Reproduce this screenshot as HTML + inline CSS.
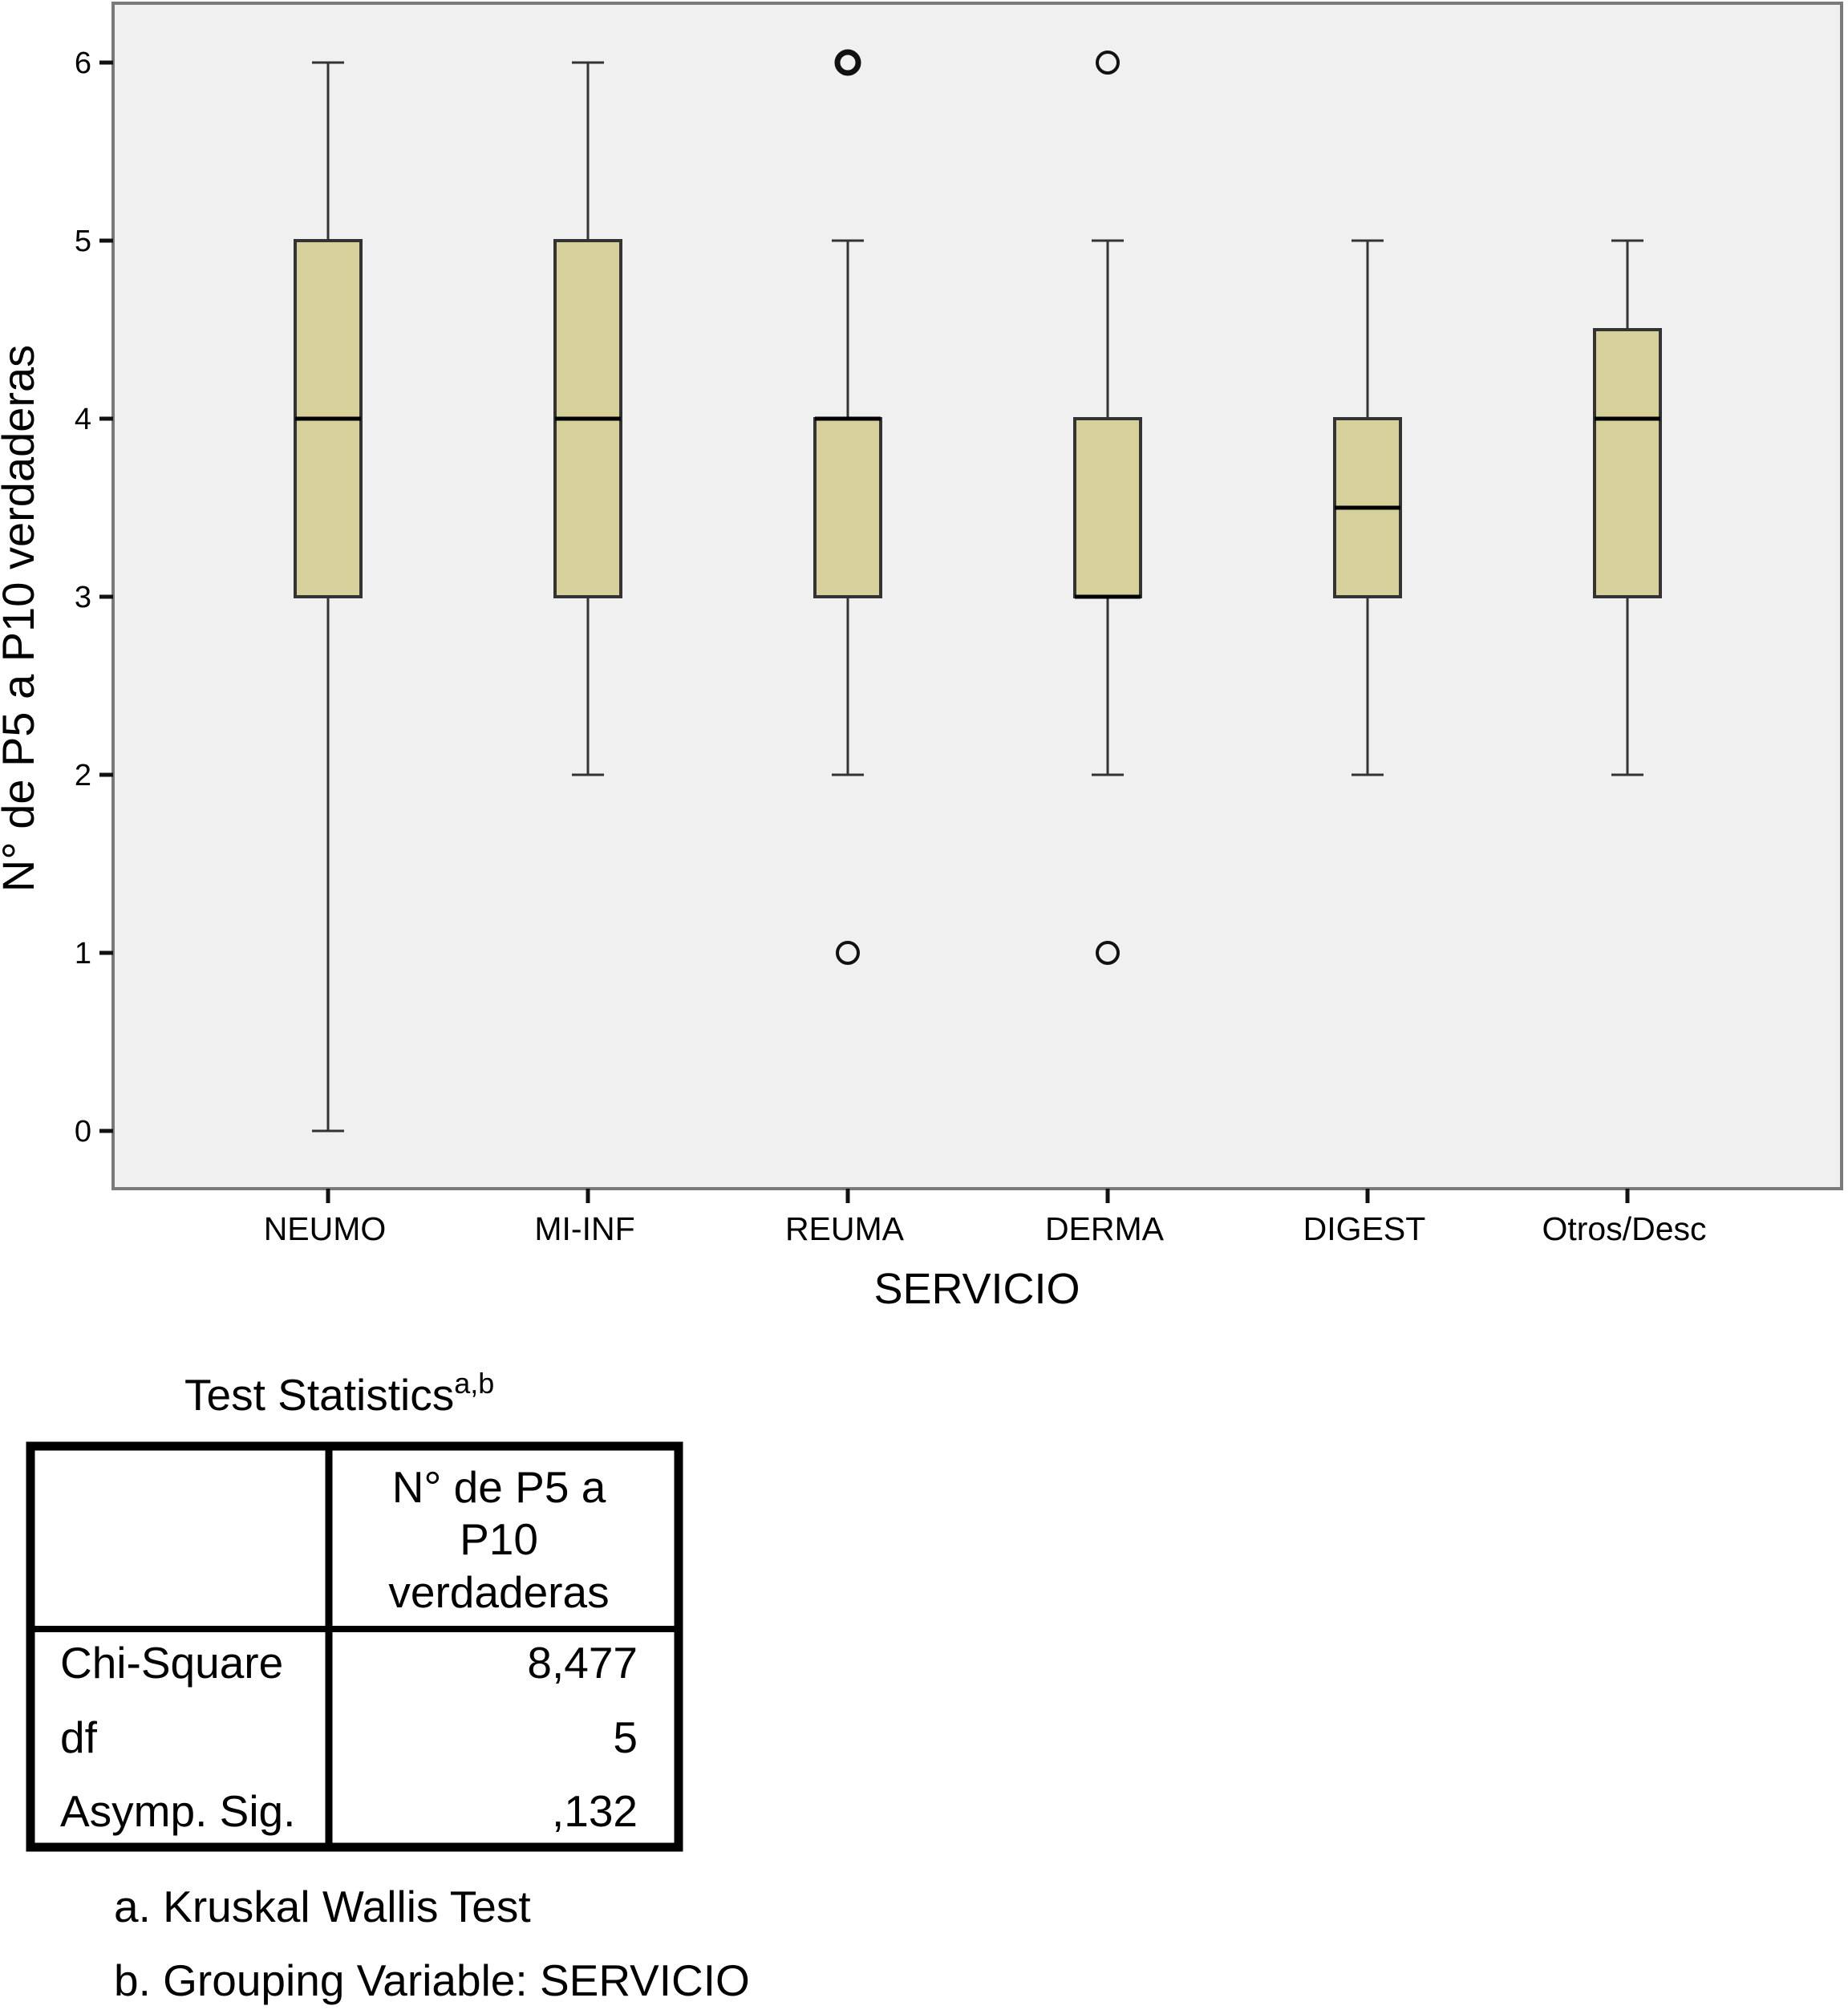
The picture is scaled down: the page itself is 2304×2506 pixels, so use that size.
<!DOCTYPE html>
<html><head><meta charset="utf-8">
<style>
html,body{margin:0;padding:0;background:#fff;}
body{width:2304px;height:2506px;position:relative;overflow:hidden;font-family:"Liberation Sans",sans-serif;}
svg{position:absolute;left:0;top:0;}
</style></head>
<body>
<svg id="chart" width="2304" height="2506">
  <rect x="141" y="4" width="2155" height="1478" fill="#f0f0f0" stroke="#7a7a7a" stroke-width="4"/>
  <g id="yaxis"></g>
  <g id="xaxis"></g>
  <g id="boxes"></g>
  <text transform="translate(42,771) rotate(-90)" text-anchor="middle" font-size="56" fill="#000">N° de P5 a P10 verdaderas</text>
  <text x="1218" y="1625" text-anchor="middle" font-size="54" fill="#000">SERVICIO</text>

  <g font-size="55" fill="#000">
    <text x="230" y="1758" font-size="55">Test Statistics<tspan font-size="36" dy="-21">a,b</tspan></text>
    <rect x="38" y="1803" width="808" height="500" fill="#fff" stroke="#000" stroke-width="11"/>
    <line x1="410" y1="1798" x2="410" y2="2308" stroke="#000" stroke-width="9"/>
    <line x1="38" y1="2031" x2="846" y2="2031" stroke="#000" stroke-width="8"/>
    <text x="622" y="1873" text-anchor="middle">N° de P5 a</text>
    <text x="622" y="1938" text-anchor="middle">P10</text>
    <text x="622" y="2004" text-anchor="middle">verdaderas</text>
    <text x="75" y="2092">Chi-Square</text>
    <text x="795" y="2092" text-anchor="end">8,477</text>
    <text x="75" y="2185">df</text>
    <text x="795" y="2185" text-anchor="end">5</text>
    <text x="75" y="2277">Asymp. Sig.</text>
    <text x="795" y="2277" text-anchor="end">,132</text>
  </g>
  <text x="142" y="2396" font-size="55">a. Kruskal Wallis Test</text>
  <text x="142" y="2488" font-size="55">b. Grouping Variable: SERVICIO</text>
</svg>
<script>
const categories = ["NEUMO","MI-INF","REUMA","DERMA","DIGEST","Otros/Desc"];
const mins = [0,2,2,2,2,2];
const q1s = [3,3,3,3,3,3];
const medians = [4,4,4,3,3.5,4];
const q3s = [5,5,4,4,4,4.5];
const maxs = [6,6,5,5,5,5];
const outlierCats = [2,2,3,3];
const outlierVals = [6,1,6,1];
const outlierBold = [true,false,false,false];
const yTicks = [0,1,2,3,4,5,6];

const NS = "http://www.w3.org/2000/svg";
function y(v){ return 1410 - 222*v; }
function x(i){ return 409 + 324*i; }
function mk(tag, attrs, parent){
  const e = document.createElementNS(NS, tag);
  for (const k in attrs) e.setAttribute(k, attrs[k]);
  parent.appendChild(e);
  return e;
}
const ya = document.getElementById('yaxis');
yTicks.forEach(t => {
  const l = mk('line', {x1:124, x2:141, y1:y(t), y2:y(t), stroke:'#111', 'stroke-width':5}, ya);
  
  
  const tx = mk('text', {x:114, y:y(t)+13, 'text-anchor':'end', 'font-size':38, fill:'#000'}, ya);
  tx.textContent = t;
  
  
});
const xa = document.getElementById('xaxis');
categories.forEach((c, i) => {
  const l = mk('line', {x1:x(i), x2:x(i), y1:1482, y2:1500, stroke:'#111', 'stroke-width':5}, xa);
  
  
  const tx = mk('text', {x:x(i)-4, y:1546, 'text-anchor':'middle', 'font-size':41, fill:'#000'}, xa);
  tx.textContent = c;
  
  
});
const bx = document.getElementById('boxes');
categories.forEach((c, i) => {
  const cx = x(i), hw = 41, cw = 20;
  const g = mk('g', {}, bx);
  
  
  mk('line', {x1:cx, x2:cx, y1:y(maxs[i]), y2:y(q3s[i]), stroke:'#333', 'stroke-width':3}, g);
  mk('line', {x1:cx, x2:cx, y1:y(q1s[i]), y2:y(mins[i]), stroke:'#333', 'stroke-width':3}, g);
  mk('line', {x1:cx-cw, x2:cx+cw, y1:y(maxs[i]), y2:y(maxs[i]), stroke:'#333', 'stroke-width':3}, g);
  mk('line', {x1:cx-cw, x2:cx+cw, y1:y(mins[i]), y2:y(mins[i]), stroke:'#333', 'stroke-width':3}, g);
  mk('rect', {x:cx-hw, y:y(q3s[i]), width:2*hw, height:y(q1s[i])-y(q3s[i]), fill:'#d6d09a', stroke:'#333', 'stroke-width':4}, g);
  mk('line', {x1:cx-hw, x2:cx+hw, y1:y(medians[i]), y2:y(medians[i]), stroke:'#000', 'stroke-width':5}, g);
});
outlierVals.forEach((v, k) => {
  const c = mk('circle', {cx:x(outlierCats[k]), cy:y(v), r:13, fill:'none', stroke:'#111', 'stroke-width': outlierBold[k] ? 7 : 4}, bx);
  
  
});
</script>
</body></html>
